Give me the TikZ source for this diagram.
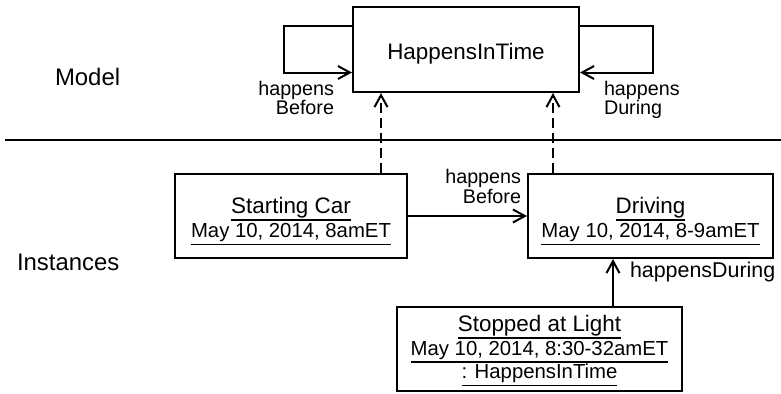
\documentclass[tikz,border=0pt]{standalone}
\usepackage{fontspec}
\setmainfont{Liberation Sans}
\usetikzlibrary{arrows.meta}

% underline drawn as a rule of fixed depth below the baseline
\newcommand{\undl}[1]{\setbox0=\hbox{#1}\rlap{\rule[-7.8bp]{\wd0}{1.5bp}}\box0}

\begin{document}
\begin{tikzpicture}[x=1bp,y=-1bp,
  line width=2bp,
  box/.style={draw, rectangle, inner sep=0pt},
  tip/.style={-{Straight Barb[length=12bp,width=13bp,line width=2bp]}},
  dashline/.style={dash pattern=on 10bp off 5bp},
  ttl/.style={inner sep=0pt, anchor=base, font=\fontsize{22.5}{27}\selectfont},
  sub/.style={inner sep=0pt, anchor=base, font=\fontsize{20.4}{24}\selectfont},
  lbl/.style={inner sep=0pt, font=\fontsize{19.8}{19.5}\selectfont},
  side/.style={inner sep=0pt, anchor=base west, font=\fontsize{24}{28}\selectfont}
]
\useasboundingbox (0,0) rectangle (781,393);

% model / instances separator
\coordinate (sepL) at (5,139.5);
\coordinate (sepR) at (781,139.5);
\draw (sepL) -- (sepR);

\node[side] (model) at (54,85) {Model};
\node[side] (inst) at (16,270) {Instances};

% class box
\node[box, minimum width=226bp, minimum height=85bp,
      font=\fontsize{22.5}{27}\selectfont, text height=22bp, text depth=3bp]
      (hit) at (466,49.5) {HappensInTime};

% instance boxes
\node[box, minimum width=232bp, minimum height=84bp] (sc) at (291,216) {};
\node[ttl] (sc1) at (291,213) {\undl{Starting Car}};
\node[sub] (sc2) at (291,237.5) {\undl{May 10, 2014, 8amET}};

\node[box, minimum width=245bp, minimum height=84bp] (dr) at (650.5,216) {};
\node[ttl] (dr1) at (650.5,213) {\undl{Driving}};
\node[sub] (dr2) at (650.5,237.5) {\undl{May 10, 2014, 8-9amET}};

\node[box, minimum width=285bp, minimum height=84bp] (st) at (539.5,348.5) {};
\node[ttl] (st1) at (539.5,331) {\undl{Stopped at Light}};
\node[sub] (st2) at (539.5,355) {\undl{May 10, 2014, 8:30-32amET}};
\node[sub] (st3) at (539.5,378.5) {\undl{: HappensInTime}};

% self associations of the class
\draw[tip] ([yshift=-19.5bp]hit.north west) -- ++(-68,0) |- ([yshift=20.5bp]hit.south west);
\draw[tip] ([yshift=-19.5bp]hit.north east) -- ++(73,0) |- ([yshift=20.5bp]hit.south east);
\node[lbl, align=right, anchor=base east] (lbB) at (335,114.5) {happens\\Before};
\node[lbl, align=left, anchor=base west] (lbD) at (603,114.5) {happens\\During};

% instance-of links
\draw[tip, dashline] ([xshift=90bp]sc.north) -- ([xshift=90bp]sc.north |- hit.south);
\draw[tip, dashline] ([xshift=-97.5bp]dr.north) -- ([xshift=-97.5bp]dr.north |- hit.south);

% links between instances
\draw[tip] (sc.east) -- (dr.west);
\node[lbl, align=right, anchor=base east] (lbI) at (522,203) {happens\\Before};

\draw[tip] ([xshift=73.5bp]st.north) -- ([xshift=73.5bp]st.north |- dr.south);
\node[lbl, anchor=base west, font=\fontsize{21.5}{24}\selectfont] (lbS) at (629,277) {happensDuring};
\end{tikzpicture}
\end{document}
